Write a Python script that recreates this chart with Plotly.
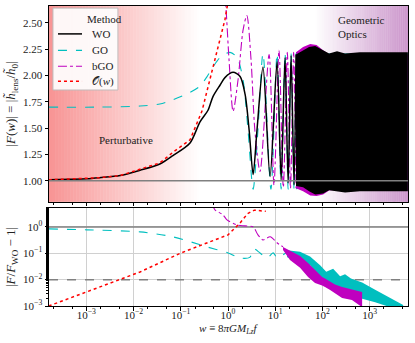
import plotly.graph_objs as go

# ---- top panel: |F(w)| ----
w_wo = [1.6e-4, 4.6e-4, 1.03e-3, 1.9e-3, 5.2e-3, 1.37e-2, 3.6e-2, 6.8e-2, 0.157, 0.255, 0.377, 0.48, 0.68,
        0.86, 1.28, 1.8, 2.3, 2.8, 3.4, 4.1, 5.5, 7.75, 10.9, 13.3, 16.1, 18.7, 21.6, 25.0, 27.5]
F_wo = [1.01, 1.015, 1.02, 1.03, 1.05, 1.10, 1.16, 1.24, 1.36, 1.56, 1.67, 1.80, 1.91,
        1.98, 2.03, 1.99, 1.82, 1.48, 1.06, 1.48, 2.08, 1.04, 2.13, 1.01, 2.17, 0.98, 2.19, 0.96, 2.20]
w_wo_band = [27.5, 38.8, 52, 70, 103, 138, 203, 300, 620, 6400]
F_wo_hi = [2.20, 2.24, 2.27, 2.28, 2.24, 2.21, 2.23, 2.21, 2.22, 2.22]
F_wo_lo = [0.95, 0.94, 0.90, 0.87, 0.88, 0.91, 0.90, 0.89, 0.90, 0.90]

w_go = [1.6e-4, 1.9e-3, 1.37e-2, 3.6e-2, 6.8e-2, 0.157, 0.255, 0.36, 0.48, 0.68, 1.1, 1.55, 2.08,
        2.65, 3.4, 4.3, 5.5, 8.1, 10.9, 13.3, 16.1, 18.7, 21.6, 25.0, 27.5]
F_go = [1.70, 1.70, 1.71, 1.73, 1.77, 1.84, 1.90, 1.99, 2.08, 2.17, 2.22, 2.17, 1.96,
        1.48, 0.92, 1.48, 2.21, 0.92, 2.21, 0.92, 2.21, 0.92, 2.21, 0.92, 2.21]
w_go_band = [27.5, 40, 6400]
F_go_hi = [2.22, 2.21, 2.21]
F_go_lo = [0.92, 0.93, 0.93]

w_bgo = [0.70, 0.90, 1.05, 1.28, 1.63, 2.08, 2.5, 3.07, 3.7, 4.76, 7.4, 9.4, 12.0, 14.8, 18.0, 21.0, 24.5, 27.5]
F_bgo = [3.3, 2.66, 2.15, 1.66, 1.96, 2.43, 2.57, 2.15, 1.48, 1.09, 2.20, 0.96, 2.24, 0.94, 2.22, 0.93, 2.22, 0.93]
w_bgo_band = [27.5, 38.8, 55, 75, 103, 140, 6400]
F_bgo_hi = [2.22, 2.27, 2.30, 2.29, 2.24, 2.20, 2.20]
F_bgo_lo = [0.93, 0.90, 0.86, 0.855, 0.87, 0.91, 0.91]

w_pert = [1.6e-4, 1.03e-3, 1.9e-3, 5.2e-3, 1.37e-2, 3.6e-2, 6.8e-2, 0.157, 0.28, 0.415, 0.68, 0.86, 1.0, 1.15]
F_pert = [1.01, 1.02, 1.03, 1.05, 1.11, 1.17, 1.27, 1.39, 1.66, 1.96, 2.34, 2.53, 2.70, 2.90]

# ---- bottom panel: |F/F_WO - 1| ----
w_err_go = [1.6e-4, 1.03e-3, 1.37e-2, 6.8e-2, 0.36, 1.0, 1.8, 2.9, 3.5, 4.76, 6.7, 9.0, 10.9, 17.8]
e_go = [0.84, 0.77, 0.645, 0.42, 0.174, 0.103, 0.066, 0.07, 0.146, 0.103, 0.066, 0.103, 0.07, 0.11]
w_err_go_band = [17.8, 33.5, 54.6, 89, 120, 168, 236, 300, 400, 690, 1300, 2700, 5100]
e_go_hi = [0.13, 0.115, 0.075, 0.035, 0.02, 0.026, 0.0135, 0.016, 0.011, 0.0078, 0.0041, 0.0021, 0.0011]
e_go_lo = [0.07, 0.05, 0.035, 0.012, 0.0075, 0.0045, 0.0028, 0.0024, 0.002, 0.0019, 0.0014, 0.0009, 0.0009]

w_err_bgo = [0.46, 0.53, 0.78, 0.95, 1.55, 2.3, 3.4, 4.3, 5.5, 7.8, 10.9, 14.6]
e_bgo = [8.0, 4.4, 2.9, 1.85, 1.19, 1.09, 1.0, 0.5, 0.32, 0.42, 0.25, 0.174]
w_err_bgo_band = [14.6, 20.5, 33.5, 49.4, 69.5, 98, 113, 145, 184, 260, 420, 690]
e_bgo_hi = [0.174, 0.123, 0.079, 0.043, 0.0233, 0.0126, 0.011, 0.0081, 0.0065, 0.0053, 0.0044, 0.0034]
e_bgo_lo = [0.134, 0.056, 0.028, 0.0126, 0.0075, 0.006, 0.0053, 0.004, 0.0031, 0.002, 0.0017, 0.0009]

w_err_pert = [1.6e-4, 1.03e-3, 1.37e-2, 0.1, 1.0, 1.8, 2.6, 3.6, 5.0, 6.3]
e_pert = [1e-3, 3.4e-3, 0.0195, 0.102, 0.5, 1.41, 3.2, 4.3, 4.1, 3.9]

x_ticks = [1e-3, 1e-2, 1e-1, 1e0, 1e1, 1e2, 1e3]
x_ticktext = ["10<sup>−3</sup>", "10<sup>−2</sup>", "10<sup>−1</sup>", "10<sup>0</sup>",
              "10<sup>1</sup>", "10<sup>2</sup>", "10<sup>3</sup>"]
y_err_ticks = [1e-3, 1e-2, 1e-1, 1e0]
y_err_ticktext = ["10<sup>−3</sup>", "10<sup>−2</sup>", "10<sup>−1</sup>", "10<sup>0</sup>"]
y_top_ticks = [1.00, 1.25, 1.50, 1.75, 2.00, 2.25, 2.50]

legend_names = ["WO", "GO", "bGO", "𝒪(<i>w</i>)"]

BLACK = "black"
CYAN = "#00bfbf"
MAG = "#bf00bf"
RED = "#ff0000"
GRAY = "#808080"
XMIN, XMAX = 10 ** -3.79, 10 ** 3.81


def band(w, hi, lo):
    return list(w) + list(w)[::-1], list(hi) + list(lo)[::-1]


fig = go.Figure()

# top panel bands (dense oscillations)
bx, by = band(w_go_band, F_go_hi, F_go_lo)
fig.add_trace(go.Scatter(x=bx, y=by, xaxis="x2", yaxis="y2", fill="toself", fillcolor=CYAN,
                         line=dict(width=0), mode="lines", hoverinfo="skip"))
bx, by = band(w_bgo_band, F_bgo_hi, F_bgo_lo)
fig.add_trace(go.Scatter(x=bx, y=by, xaxis="x2", yaxis="y2", fill="toself", fillcolor=MAG,
                         line=dict(width=0), mode="lines", hoverinfo="skip"))

fig.add_trace(go.Scatter(x=w_go, y=F_go, xaxis="x2", yaxis="y2", name="GO",
                         mode="lines", line=dict(color=CYAN, width=1.1, dash="dash", shape="spline", smoothing=0.8)))
fig.add_trace(go.Scatter(x=w_bgo, y=F_bgo, xaxis="x2", yaxis="y2", name="bGO",
                         mode="lines", line=dict(color=MAG, width=1.1, dash="dashdot", shape="spline", smoothing=0.8)))

bx, by = band(w_wo_band, F_wo_hi, F_wo_lo)
fig.add_trace(go.Scatter(x=bx, y=by, xaxis="x2", yaxis="y2", fill="toself", fillcolor=BLACK,
                         line=dict(width=0), mode="lines", hoverinfo="skip"))
fig.add_trace(go.Scatter(x=w_wo, y=F_wo, xaxis="x2", yaxis="y2", name="WO",
                         mode="lines", line=dict(color=BLACK, width=1.5, shape="spline", smoothing=0.8)))
fig.add_trace(go.Scatter(x=w_pert, y=F_pert, xaxis="x2", yaxis="y2", name="O(w)",
                         mode="lines", line=dict(color=RED, width=1.5, dash="dot")))
fig.add_trace(go.Scatter(x=[XMIN, XMAX], y=[1, 1], xaxis="x2", yaxis="y2", mode="lines",
                         line=dict(color=GRAY, width=1.5), hoverinfo="skip"))

# bottom panel
fig.add_trace(go.Scatter(x=[XMIN, XMAX], y=[1, 1], mode="lines",
                         line=dict(color=GRAY, width=1.5), hoverinfo="skip"))
fig.add_trace(go.Scatter(x=[XMIN, XMAX], y=[0.01, 0.01], mode="lines",
                         line=dict(color=GRAY, width=1.5, dash="dash"), hoverinfo="skip"))
bx, by = band(w_err_go_band, e_go_hi, e_go_lo)
fig.add_trace(go.Scatter(x=bx, y=by, fill="toself", fillcolor=CYAN, line=dict(width=0),
                         mode="lines", hoverinfo="skip"))
fig.add_trace(go.Scatter(x=w_err_go, y=e_go, mode="lines",
                         line=dict(color=CYAN, width=1.1, dash="dash", shape="spline", smoothing=0.8)))
bx, by = band(w_err_bgo_band, e_bgo_hi, e_bgo_lo)
fig.add_trace(go.Scatter(x=bx, y=by, fill="toself", fillcolor=MAG, line=dict(width=0),
                         mode="lines", hoverinfo="skip"))
fig.add_trace(go.Scatter(x=w_err_bgo, y=e_bgo, mode="lines",
                         line=dict(color=MAG, width=1.1, dash="dashdot", shape="spline", smoothing=0.8)))
fig.add_trace(go.Scatter(x=w_err_pert, y=e_pert, mode="lines",
                         line=dict(color=RED, width=1.5, dash="dot")))

# background gradients in the top panel
shapes = []
n = 50
for i in range(n):
    x0 = 0.42 * i / n
    x1 = 0.42 * (i + 1) / n
    a = 0.5 * (1 - (i + 0.5) / n)
    shapes.append(dict(type="rect", xref="paper", yref="y2 domain", x0=x0, x1=x1, y0=0, y1=1,
                       fillcolor="rgba(240,40,40,%.3f)" % a, line=dict(width=0), layer="below"))
for i in range(n):
    x0 = 0.74 + 0.26 * i / n
    x1 = 0.74 + 0.26 * (i + 1) / n
    a = 0.45 * (i + 0.5) / n
    shapes.append(dict(type="rect", xref="paper", yref="y2 domain", x0=x0, x1=x1, y0=0, y1=1,
                       fillcolor="rgba(140,20,140,%.3f)" % a, line=dict(width=0), layer="below"))

# hand-made legend box (matplotlib style)
shapes.append(dict(type="rect", xref="paper", yref="paper", x0=0.011, x1=0.192, y0=0.72, y1=0.993,
                   fillcolor="white", opacity=0.92, layer="above",
                   line=dict(color="#bbbbbb", width=1)))
leg_y = [0.907, 0.852, 0.799, 0.749]
leg_style = [(BLACK, "solid", 1.5), (CYAN, "dash", 1.1), (MAG, "dashdot", 1.1), (RED, "dot", 1.5)]
annotations = [dict(text="Method", xref="paper", yref="paper", x=0.100, y=0.957,
                    yanchor="middle", showarrow=False, font=dict(size=11))]
for name, yy, (col, dash, lw) in zip(legend_names, leg_y, leg_style):
    shapes.append(dict(type="line", xref="paper", yref="paper", x0=0.025, x1=0.092, y0=yy, y1=yy,
                       layer="above", line=dict(color=col, width=lw, dash=dash)))
    annotations.append(dict(text=name, xref="paper", yref="paper", x=0.114, y=yy, xanchor="left",
                            yanchor="middle", showarrow=False, font=dict(size=11)))

annotations += [
    dict(text="Perturbative", xref="paper", yref="paper", x=0.134, y=0.553,
         yanchor="middle", showarrow=False, font=dict(size=11)),
    dict(text="Geometric<br>Optics", xref="paper", yref="paper", x=0.80, y=0.93,
         xanchor="left", yanchor="middle", align="left", showarrow=False, font=dict(size=11)),
    dict(text="<i>w</i> ≡ 8<i>πGM</i><sub><i>Lz</i></sub><i>f</i>", xref="paper", yref="paper",
         x=0.5, y=-0.075, yanchor="middle", showarrow=False, font=dict(size=11)),
]

axis_common = dict(showline=True, linecolor="black", linewidth=1, mirror=True, automargin=False,
                   ticks="outside", ticklen=3.5, tickcolor="black", zeroline=False)

fig.update_layout(
    width=415, height=343,
    margin=dict(l=49, r=7, t=6, b=37),
    paper_bgcolor="white", plot_bgcolor="white",
    font=dict(family="Liberation Serif", size=11, color="#222222"),
    shapes=shapes,
    annotations=annotations,
    showlegend=False,
    xaxis=dict(axis_common, type="log", range=[-3.79, 3.81], anchor="y",
               tickvals=x_ticks, ticktext=x_ticktext, ticklabelstandoff=-5,
               showgrid=True, gridcolor="#d0d0d0", gridwidth=1,
               minor=dict(ticks="outside", ticklen=2, tickcolor="black", showgrid=False)),
    yaxis=dict(axis_common, type="log", range=[-3, 0.72], domain=[0, 0.327],
               tickvals=y_err_ticks, ticktext=y_err_ticktext,
               showgrid=True, gridcolor="#d0d0d0", gridwidth=1,
               minor=dict(ticks="outside", ticklen=2, tickcolor="black", showgrid=False),
               title=dict(text="|<i>F</i>/<i>F</i><sub>WO</sub> − 1|", standoff=4)),
    xaxis2=dict(axis_common, type="log", range=[-3.79, 3.81], anchor="y2", matches="x",
                tickvals=x_ticks, showticklabels=False, showgrid=False,
                minor=dict(ticks="outside", ticklen=2, tickcolor="black", showgrid=False)),
    yaxis2=dict(axis_common, range=[0.80, 2.66], domain=[0.347, 1], anchor="x2",
                tickvals=y_top_ticks, tickformat=".2f", showgrid=False,
                title=dict(text="|<i>F</i>(<i>w</i>)| = |<i>h̃</i><sub>lens</sub>/<i>h̃</i><sub>0</sub>|",
                           standoff=4)),
)

fig.write_html("out.html", config={"displayModeBar": False},
               post_script="document.body.style.margin='0';")
